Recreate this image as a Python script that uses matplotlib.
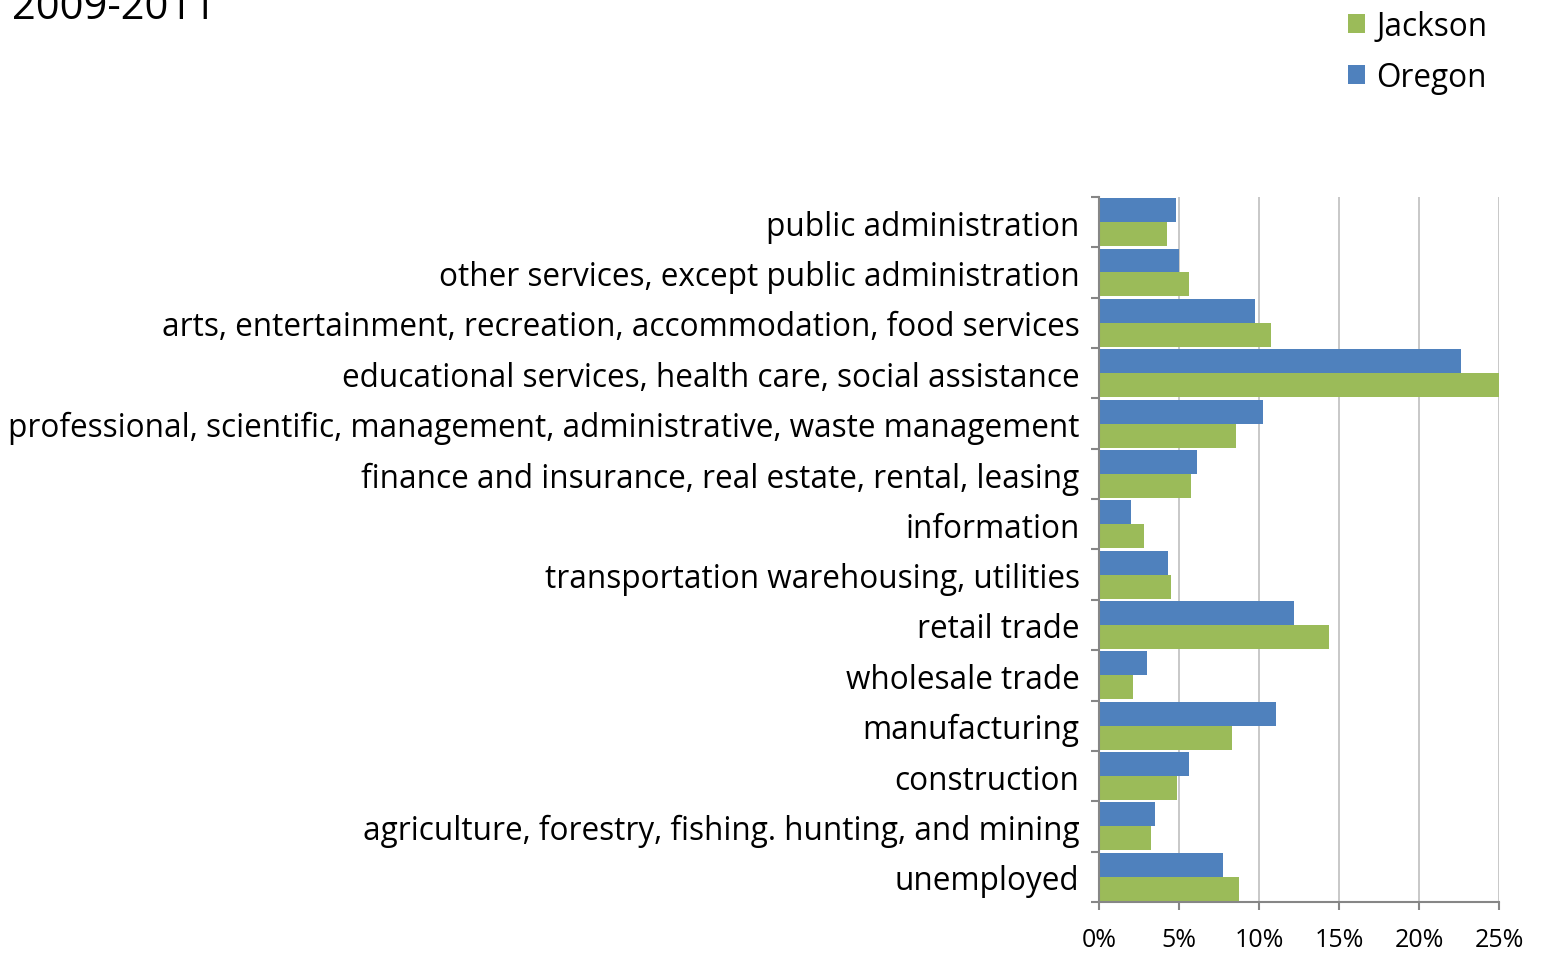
import numpy as np
import matplotlib
matplotlib.use("Agg")
from matplotlib import pyplot as plt
from matplotlib.ticker import FixedLocator, PercentFormatter

plt.rcParams['font.family'] = ['Open Sans', 'DejaVu Sans']

# categories listed from bottom to top
categories = [
    "unemployed",
    "agriculture, forestry, fishing. hunting, and mining",
    "construction",
    "manufacturing",
    "wholesale trade",
    "retail trade",
    "transportation warehousing, utilities",
    "information",
    "finance and insurance, real estate, rental, leasing",
    "professional, scientific, management, administrative, waste management",
    "educational services, health care, social assistance",
    "arts, entertainment, recreation, accommodation, food services",
    "other services, except public administration",
    "public administration",
]
oregon = [7.75, 3.5, 5.6, 11.05, 3.0, 12.2, 4.3, 2.0, 6.1, 10.25, 22.6, 9.75, 5.0, 4.8]
jackson = [8.75, 3.25, 4.9, 8.3, 2.1, 14.4, 4.5, 2.8, 5.75, 8.55, 25.0, 10.75, 5.6, 4.25]
title = "2009-2011"

blue = '#4f81bd'
green = '#9bbb59'

fig = plt.figure(figsize=(15.41, 9.54), dpi=100)
ax = fig.add_axes([0.7132, 0.0535, 0.2596, 0.739])

y = np.arange(len(categories))
h = 0.476
ax.barh(y + h / 2, oregon, height=h, color=blue, label='Oregon', zorder=2)
ax.barh(y - h / 2, jackson, height=h, color=green, label='Jackson', zorder=2)

ax.set_xlim(0, 25)
ax.set_ylim(-0.5, len(categories) - 0.5)
ax.set_xticks([0, 5, 10, 15, 20, 25])
ax.xaxis.set_major_formatter(PercentFormatter(decimals=0))
ax.grid(axis='x', color='#bfbfbf', linewidth=1.2, zorder=0)

ax.set_yticks(y)
ax.set_yticklabels(categories, fontsize=22.7)
ax.yaxis.set_minor_locator(FixedLocator(np.arange(len(categories) + 1) - 0.5))
ax.tick_params(axis='y', which='major', length=0, pad=14)
ax.tick_params(axis='y', which='minor', length=6, width=1.5, color='#868686')
ax.tick_params(axis='x', length=6, width=1.5, color='#868686', labelsize=18, pad=12)

for s in ['top', 'right']:
    ax.spines[s].set_visible(False)
for s in ['left', 'bottom']:
    ax.spines[s].set_color('#868686')
    ax.spines[s].set_linewidth(1.5)

handles, labels = ax.get_legend_handles_labels()
fig.legend(handles[::-1], labels[::-1], loc='upper left', bbox_to_anchor=(1348 / 1541, 1 - 11 / 954),
           frameon=False, fontsize=22.7, handlelength=0.55, handleheight=0.55,
           handletextpad=0.35, labelspacing=0.56, borderpad=0, borderaxespad=0)

fig.text(12 / 1541, 1 - 19 / 954, title, fontsize=30, va='baseline', ha='left')

fig.savefig('out.png', dpi=100)
